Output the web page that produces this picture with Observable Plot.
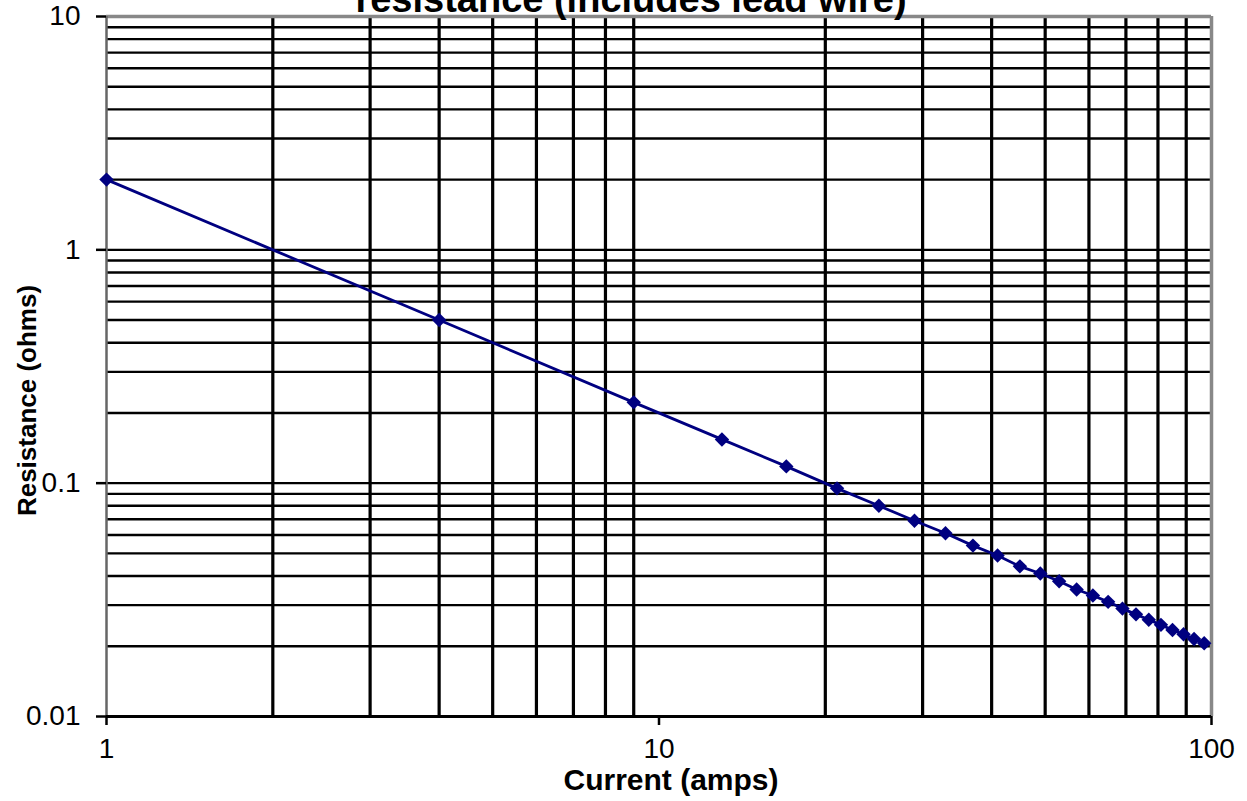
<!DOCTYPE html>
<html>
<head>
<meta charset="utf-8">
<script src="https://cdn.jsdelivr.net/npm/d3@7"></script>
<script src="https://cdn.jsdelivr.net/npm/@observablehq/plot@0.6"></script>
<style>
  html, body { margin: 0; padding: 0; background: #fff; }
  #chart { width: 1247px; height: 801px; overflow: hidden; }
</style>
</head>
<body>
<div id="chart"></div>
<script>
// ---- data ----
const current = [1, 4, 9, 13, 17, 21, 25, 29, 33, 37, 41, 45, 49, 53, 57, 61, 65, 69, 73, 77, 81, 85, 89, 93, 97];
const resistance = [2.0, 0.50, 0.222, 0.154, 0.118, 0.095, 0.080, 0.069, 0.061, 0.054, 0.049, 0.044, 0.041, 0.038, 0.035, 0.033, 0.031, 0.029, 0.0274, 0.026, 0.0247, 0.0235, 0.0225, 0.0215, 0.0206];
const xTicks = [1, 10, 100];
const yTicks = [0.01, 0.1, 1, 10];
const xGrid = [2, 3, 4, 5, 6, 7, 8, 9, 20, 30, 40, 50, 60, 70, 80, 90];
const yGrid = [0.02, 0.03, 0.04, 0.05, 0.06, 0.07, 0.08, 0.09, 0.1, 0.2, 0.3, 0.4, 0.5, 0.6, 0.7, 0.8, 0.9, 1, 2, 3, 4, 5, 6, 7, 8, 9];
const titleText = "resistance (includes lead wire)";
const xTitle = "Current (amps)";
const yTitle = "Resistance (ohms)";

const points = current.map((c, i) => ({current: c, resistance: resistance[i]}));

const chart = Plot.plot({
  width: 1247,
  height: 801,
  marginLeft: 106,
  marginRight: 36,
  marginTop: 16,
  marginBottom: 85,
  style: {fontFamily: "'Liberation Sans', Arial, sans-serif", background: "#fff", color: "#000"},
  x: {type: "log", domain: [1, 100]},
  y: {type: "log", domain: [0.01, 10]},
  marks: [
    Plot.ruleX(xGrid, {stroke: "#000", strokeWidth: 3.2}),
    Plot.ruleY(yGrid, {stroke: "#000", strokeWidth: 2.4}),
    Plot.ruleY([10], {stroke: "#888", strokeWidth: 3.5}),
    Plot.ruleX([100], {stroke: "#888", strokeWidth: 3.5}),
    Plot.ruleX([1], {stroke: "#666", strokeWidth: 2.5}),
    Plot.ruleY([0.01], {stroke: "#000", strokeWidth: 2.8}),
    Plot.axisX(xTicks, {tickFormat: d => String(d), tickSize: 9, tickPadding: 13, strokeWidth: 2.5, fontSize: 28, label: null}),
    Plot.axisY(yTicks, {tickFormat: d => String(d), tickSize: 10, tickPadding: 16, strokeWidth: 2.5, fontSize: 28, label: null}),
    Plot.line(points, {x: "current", y: "resistance", stroke: "#000080", strokeWidth: 2.8}),
    Plot.dot(points, {x: "current", y: "resistance", symbol: "diamond2", r: 6.5, fill: "#000080", stroke: "none"}),
    Plot.text([titleText], {frameAnchor: "top", lineAnchor: "bottom", textAnchor: "middle", dx: -28, dy: -5, fontSize: 38, fontWeight: "bold", fill: "#000"}),
    Plot.text([xTitle], {frameAnchor: "bottom", lineAnchor: "bottom", textAnchor: "middle", dx: 12, dy: 73, fontSize: 30, fontWeight: "bold", fill: "#000"}),
    Plot.text([yTitle], {frameAnchor: "left", lineAnchor: "middle", textAnchor: "middle", rotate: -90, dx: -79, dy: 34, fontSize: 26, fontWeight: "bold", fill: "#000"})
  ]
});
document.getElementById("chart").appendChild(chart);
</script>
</body>
</html>
